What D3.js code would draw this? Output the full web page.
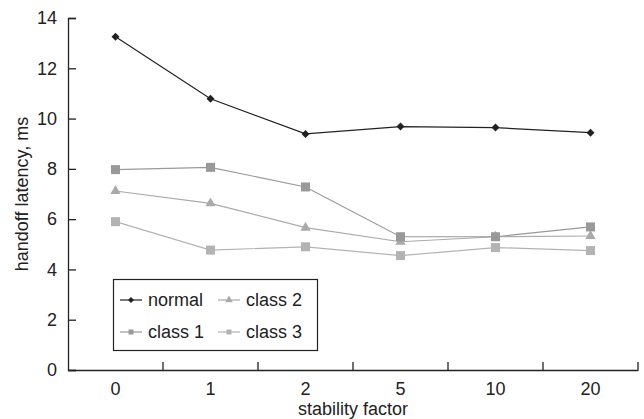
<!DOCTYPE html>
<html>
<head>
<meta charset="utf-8">
<script src="https://cdn.jsdelivr.net/npm/d3@7"></script>
<style>
  body { margin: 0; background: #fff; }
  svg { font-family: "Liberation Sans", Arial, sans-serif; }
</style>
</head>
<body>
<div id="chart"></div>
<script>
// categories on the x axis
const factors = ["0", "1", "2", "5", "10", "20"];

// handoff latency (ms) per series
const normal = [13.25, 10.79, 9.39, 9.68, 9.64, 9.44];
const class1 = [7.97, 8.06, 7.28, 5.30, 5.30, 5.69];
const class2 = [7.12, 6.63, 5.66, 5.10, 5.30, 5.33];
const class3 = [5.90, 4.77, 4.90, 4.55, 4.87, 4.75];

const yTicks = [0, 2, 4, 6, 8, 10, 12, 14];

const series = [
    {name: "normal",  values: normal, color: "#222", marker: "diamond"},
    {name: "class 1", values: class1, color: "#999", marker: "square"},
    {name: "class 2", values: class2, color: "#aaa", marker: "triangle"},
    {name: "class 3", values: class3, color: "#b3b3b3", marker: "square"}
];

const width = 644, height = 419;
const margin = {top: 18, right: 6, bottom: 49, left: 68};
const fontSize = 18;

const svg = d3.select("#chart")
    .append("svg")
    .attr("width", width)
    .attr("height", height);

const x = d3.scaleBand()
    .domain(factors)
    .range([margin.left, width - margin.right]);

const y = d3.scaleLinear()
    .domain([0, 14])
    .range([height - margin.bottom, margin.top]);

// y axis, ticks point inward
const yAxis = svg.append("g")
    .attr("transform", "translate(" + margin.left + ",0)")
    .call(d3.axisLeft(y).tickValues(yTicks).tickSize(-8).tickPadding(11));
yAxis.select(".domain").attr("stroke", "#222").attr("stroke-width", 1.3);
yAxis.selectAll(".tick line").attr("stroke", "#222").attr("stroke-width", 1.3);
yAxis.selectAll(".tick text").attr("font-size", fontSize).attr("fill", "#222");

// x axis, ticks at band boundaries pointing up
const xAxis = svg.append("g")
    .attr("transform", "translate(0," + (height - margin.bottom) + ")")
    .call(d3.axisBottom(x).tickSize(0).tickPadding(12).tickSizeOuter(0));
xAxis.select(".domain").attr("stroke", "#222").attr("stroke-width", 1.3);
xAxis.selectAll(".tick text").attr("font-size", fontSize).attr("fill", "#222");
xAxis.selectAll(".bound")
    .data(factors)
    .enter().append("line")
    .attr("x1", d => x(d) + x.bandwidth())
    .attr("x2", d => x(d) + x.bandwidth())
    .attr("y1", 0)
    .attr("y2", -8)
    .attr("stroke", "#222")
    .attr("stroke-width", 1.3);

// axis titles
svg.append("text")
    .attr("x", 353)
    .attr("y", 415)
    .attr("text-anchor", "middle")
    .attr("font-size", fontSize)
    .attr("fill", "#222")
    .text("stability factor");

svg.append("text")
    .attr("transform", "rotate(-90)")
    .attr("x", -194)
    .attr("y", 28)
    .attr("text-anchor", "middle")
    .attr("font-size", fontSize)
    .attr("fill", "#222")
    .text("handoff latency, ms");

const cx = (d, i) => x(factors[i]) + x.bandwidth() / 2;

const line = d3.line()
    .x((d, i) => cx(d, i))
    .y(d => y(d));

function drawMarker(g, type, color, px, py, s) {
    if (type === "diamond") {
        const h = s / 2;
        g.append("path")
            .attr("d", "M0," + (-h) + "L" + h + ",0L0," + h + "L" + (-h) + ",0Z")
            .attr("transform", "translate(" + px + "," + py + ")")
            .attr("fill", color);
    } else if (type === "triangle") {
        g.append("path")
            .attr("d", d3.symbol().type(d3.symbolTriangle).size(s * 5)())
            .attr("transform", "translate(" + px + "," + py + ")")
            .attr("fill", color);
    } else {
        g.append("rect")
            .attr("x", px - s / 2)
            .attr("y", py - s / 2)
            .attr("width", s)
            .attr("height", s)
            .attr("fill", color);
    }
}

// draw lines, lightest first
series.slice().reverse().forEach(sr => {
    const g = svg.append("g");
    g.append("path")
        .attr("d", line(sr.values))
        .attr("fill", "none")
        .attr("stroke", sr.color)
        .attr("stroke-width", 1.2);
    sr.values.forEach((v, i) => {
        drawMarker(g, sr.marker, sr.color, cx(v, i), y(v), sr.marker === "diamond" ? 8 : 9);
    });
});

// legend
const legend = svg.append("g");
legend.append("rect")
    .attr("x", 113.5)
    .attr("y", 279.5)
    .attr("width", 204)
    .attr("height", 71)
    .attr("fill", "#fff")
    .attr("stroke", "#222")
    .attr("stroke-width", 1.2);

const legendPos = [
    {s: series[0], x: 120, y: 300},
    {s: series[1], x: 120, y: 332},
    {s: series[2], x: 218, y: 300},
    {s: series[3], x: 218, y: 332}
];
legendPos.forEach(p => {
    legend.append("line")
        .attr("x1", p.x).attr("x2", p.x + 22)
        .attr("y1", p.y).attr("y2", p.y)
        .attr("stroke", p.s.color)
        .attr("stroke-width", 1.2);
    drawMarker(legend, p.s.marker, p.s.color, p.x + 11, p.y, p.s.marker === "diamond" ? 6 : 5);
    legend.append("text")
        .attr("x", p.x + 28)
        .attr("y", p.y + 6)
        .attr("font-size", fontSize)
        .attr("fill", "#222")
        .text(p.s.name);
});
</script>
</body>
</html>
